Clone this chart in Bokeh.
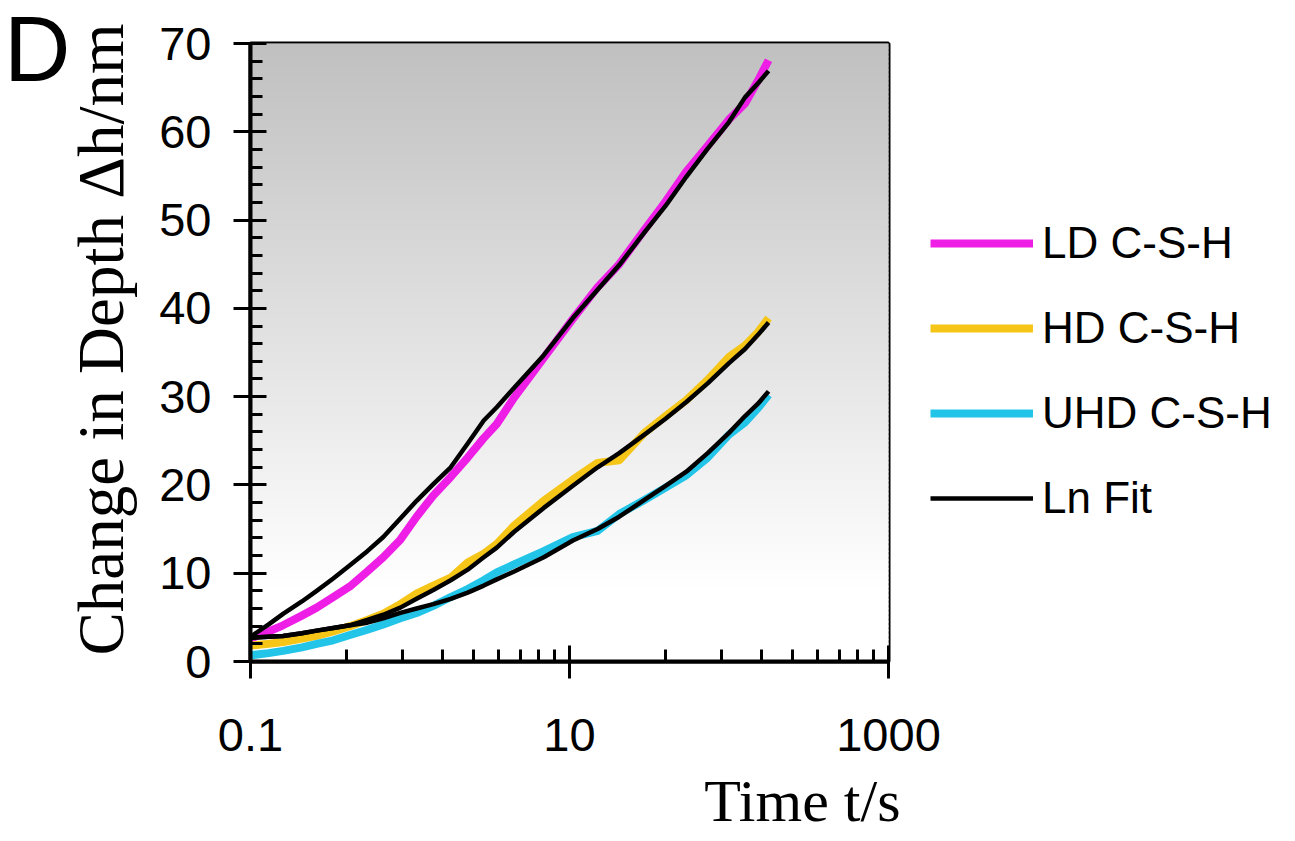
import math
from bokeh.plotting import figure
from bokeh.models import (FixedTicker, Legend, LegendItem, Range1d, Title,
                          LinearAxis, CustomJSTickFormatter)
from bokeh.embed import file_html
from bokeh.resources import INLINE

# ---------------- data ----------------
t_s = [0.1, 0.13, 0.16, 0.21, 0.26, 0.33, 0.42, 0.54, 0.68, 0.87, 1.1, 1.4,
       1.8, 2.3, 2.9, 3.5, 4.5, 6.9, 10.5, 15, 20.5, 29.5, 40, 54, 73.5,
       100, 126, 152, 177]

ld_csh = [2.6, 3.4, 4.1, 5.2, 6.1, 7.3, 8.5, 10.2, 11.8, 13.8, 16.4, 18.8,
          20.9, 23.1, 25.3, 26.9, 29.9, 34.4, 38.8, 42.4, 45.0, 48.9, 52.1,
          55.5, 58.4, 61.4, 63.2, 65.8, 68.1]
ld_fit = [2.8, 4.2, 5.4, 6.8, 8.0, 9.4, 10.9, 12.5, 14.1, 16.2, 18.2, 20.1,
          22.0, 24.7, 27.3, 28.8, 31.0, 34.7, 38.9, 42.1, 44.9, 48.6, 51.6,
          54.9, 58.1, 61.1, 63.9, 65.5, 66.9]

hd_csh = [1.8, 2.0, 2.2, 2.6, 2.9, 3.4, 4.0, 4.7, 5.4, 6.5, 7.7, 8.6, 9.5,
          11.2, 12.2, 13.3, 15.4, 18.2, 20.6, 22.5, 22.8, 25.9, 27.8, 29.6,
          31.9, 34.5, 35.8, 37.3, 38.9]
hd_fit = [2.7, 2.8, 2.9, 3.2, 3.5, 3.8, 4.1, 4.7, 5.3, 6.1, 7.1, 8.1, 9.2,
          10.4, 11.8, 12.9, 14.7, 17.4, 19.9, 22.0, 23.6, 25.7, 27.5, 29.4,
          31.5, 33.8, 35.4, 37.0, 38.4]

uhd_csh = [0.7, 0.95, 1.2, 1.6, 2.0, 2.4, 3.0, 3.6, 4.2, 4.9, 5.5, 6.3, 7.3,
           8.2, 9.2, 10.1, 11.0, 12.5, 14.1, 14.8, 16.7, 18.3, 19.7, 21.1,
           23.1, 25.7, 27.1, 28.7, 30.2]
uhd_fit = [2.7, 2.8, 2.9, 3.2, 3.5, 3.8, 4.1, 4.4, 4.9, 5.5, 6.0, 6.5, 7.1,
           7.8, 8.6, 9.3, 10.2, 11.8, 13.7, 15.0, 16.4, 18.3, 19.9, 21.5,
           23.6, 25.9, 27.8, 29.2, 30.6]

series_names = ["LD C-S-H", "HD C-S-H", "UHD C-S-H", "Ln Fit"]
x_major = [0.1, 10, 1000]
x_minor = [0.4, 0.9, 1.6, 2.5, 3.6, 4.9, 6.4, 8.1,
           40, 90, 160, 250, 360, 490, 640, 810]
y_major = [0, 10, 20, 30, 40, 50, 60, 70]
y_minor = [v for v in range(0, 71, 2) if v % 10 != 0]

# ---------------- figure ----------------
p = figure(x_axis_type="log", x_range=Range1d(0.1, 1000), y_range=Range1d(0, 70),
           frame_width=638, frame_height=618,
           min_border_left=250, min_border_right=400,
           min_border_top=43, min_border_bottom=170,
           toolbar_location=None, output_backend="svg")
p.background_fill_color = "white"
p.border_fill_color = "white"
p.outline_line_color = "black"
p.outline_line_width = 4
p.xgrid.visible = False
p.ygrid.visible = False

# gradient background (gray at top fading to white)
nstrip = 140
bottoms = [i * 70 / nstrip for i in range(nstrip)]
tops = [b + 70 / nstrip for b in bottoms]
cols = []
for b in bottoms:
    yc = b + 0.25
    g = 255 if yc < 8 else 255 - (yc - 8) / 62 * (255 - 192)
    g = int(round(max(192, min(255, g))))
    cols.append("#%02x%02x%02x" % (g, g, g))
p.quad(left=[0.1] * nstrip, right=[1000] * nstrip, bottom=bottoms, top=tops,
       fill_color=cols, line_color=cols, line_width=1.5)

# data lines
r_ld = p.line(t_s, ld_csh, line_color="#ee1ee6", line_width=8, line_join="round")
r_hd = p.line(t_s, hd_csh, line_color="#f5c518", line_width=8, line_join="round")
r_uhd = p.line(t_s, uhd_csh, line_color="#22c4e8", line_width=8, line_join="round")
# fits
r_fit = p.line(t_s, ld_fit, line_color="black", line_width=4.5, line_join="round")
p.line(t_s, hd_fit, line_color="black", line_width=4.5, line_join="round")
p.line(t_s, uhd_fit, line_color="black", line_width=4.5, line_join="round")

# axes
xa = p.xaxis[0]
xa.ticker = FixedTicker(ticks=x_major, minor_ticks=x_minor)
xa.formatter = CustomJSTickFormatter(code="return String(tick)")
ya = p.yaxis[0]
ya.ticker = FixedTicker(ticks=y_major, minor_ticks=y_minor)
for ax in (xa, ya):
    ax.axis_line_width = 4
    ax.axis_line_color = "black"
    ax.major_tick_line_width = 3
    ax.minor_tick_line_width = 3
    ax.major_tick_line_color = "black"
    ax.minor_tick_line_color = "black"
    ax.major_tick_out = 17
    ax.major_tick_in = 16
    ax.minor_tick_out = 0
    ax.minor_tick_in = 12
    ax.major_label_text_font = "Liberation Sans"
    ax.major_label_text_font_size = "47px"
    ax.major_label_text_color = "black"
xa.major_label_standoff = 40
ya.major_label_standoff = 22

# y-axis title as a side-panel title
p.add_layout(Title(text="Change in Depth \u0394h/nm", align="left", offset=6,
                   standoff=39, text_font="Liberation Serif",
                   text_font_style="normal", text_font_size="65px",
                   text_color="black"), "left")

# x-axis title, right-aligned under the frame
p.add_layout(Title(text="Time t/s", align="right", offset=-12, standoff=24,
                   text_font="Liberation Serif", text_font_style="normal",
                   text_font_size="60px", text_color="black"), "below")

# panel letter "D": label of a bare extra axis; trailing empty lines lift it
# to the top-left corner
letter_axis = LinearAxis(ticker=FixedTicker(ticks=[]), bounds=(69.3, 70.0),
                         axis_line_color=None, major_tick_line_color=None,
                         minor_tick_line_color=None, axis_label="D\n\n\n\n\n",
                         axis_label_text_font="Liberation Sans",
                         axis_label_text_font_style="normal",
                         axis_label_text_font_size="92px",
                         axis_label_text_line_height=1.19,
                         axis_label_text_color="black",
                         axis_label_standoff=-27)
try:
    letter_axis.axis_label_orientation = "horizontal"
except Exception:
    pass
p.add_layout(letter_axis, "left")

# legend (in the right-hand panel)
legend = Legend(items=[LegendItem(label=series_names[0], renderers=[r_ld]),
                       LegendItem(label=series_names[1], renderers=[r_hd]),
                       LegendItem(label=series_names[2], renderers=[r_uhd]),
                       LegendItem(label=series_names[3], renderers=[r_fit])],
                location=(42, 138), orientation="vertical",
                glyph_width=103, glyph_height=50, label_height=50,
                spacing=35, padding=0, margin=0, label_standoff=9,
                label_text_font="Liberation Sans", label_text_font_size="44px",
                label_text_color="black",
                border_line_color=None, background_fill_alpha=0)
p.add_layout(legend, "right")

open("out.html", "w").write(file_html(p, INLINE))
